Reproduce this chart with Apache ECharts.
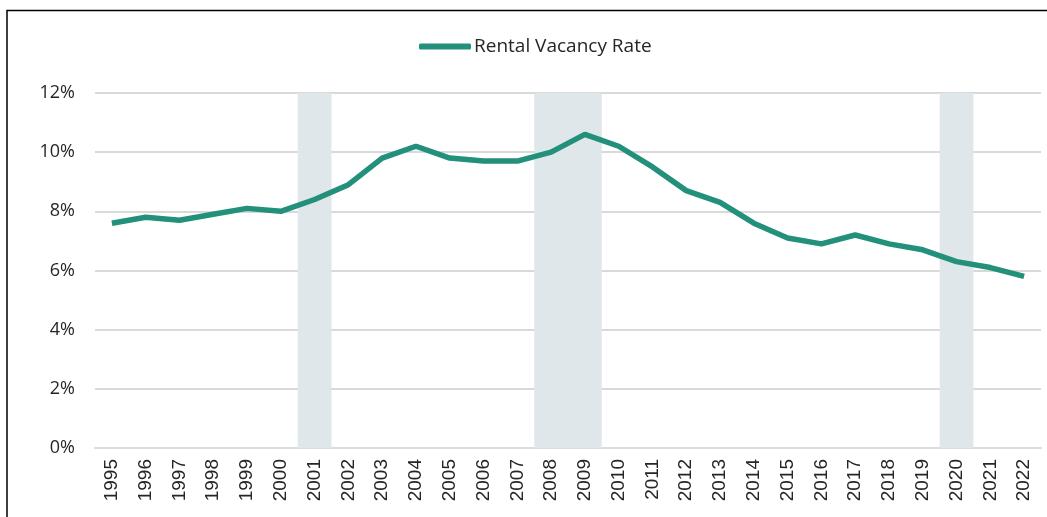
<!DOCTYPE html>
<html>
<head>
<meta charset="utf-8">
<script src="https://cdn.jsdelivr.net/npm/echarts@6/dist/echarts.min.js"></script>
<style>
  html, body { margin: 0; padding: 0; background: #fff; }
  #chart { width: 1047px; height: 517px; }
</style>
</head>
<body>
<div id="chart"></div>
<script>
const years = ['1995', '1996', '1997', '1998', '1999', '2000', '2001', '2002', '2003', '2004',
    '2005', '2006', '2007', '2008', '2009', '2010', '2011', '2012', '2013', '2014',
    '2015', '2016', '2017', '2018', '2019', '2020', '2021', '2022'];

// 空置率 (%)
const vacancyRate = [7.6, 7.8, 7.7, 7.9, 8.1, 8.0, 8.4, 8.9, 9.8, 10.2,
    9.8, 9.7, 9.7, 10.0, 10.6, 10.2, 9.5, 8.7, 8.3, 7.6,
    7.1, 6.9, 7.2, 6.9, 6.7, 6.3, 6.1, 5.8];

// 衰退期阴影
const recessionYears = ['2001', '2008', '2009', '2020'];
const yTicks = [0, 2, 4, 6, 8, 10, 12];

const chart = echarts.init(document.getElementById('chart'), null, { renderer: 'canvas' });

const lineColor = '#22907a';
const bandData = years.map(y => recessionYears.includes(y) ? yTicks[yTicks.length - 1] : null);

const option = {
    animation: false,
    graphic: [{
        type: 'polyline',
        shape: { points: [[7, 520], [7, 10.5], [1050, 10.5]] },
        style: { stroke: '#000', lineWidth: 1.5, fill: null },
        silent: true
    }],
    legend: {
        data: ['Rental Vacancy Rate'],
        left: 414,
        top: 32,
        itemWidth: 52,
        itemHeight: 6,
        itemGap: 4,
        icon: 'roundRect',
        textStyle: { fontFamily: 'Open Sans', fontSize: 19, color: '#262626', padding: [0, 0, 0, -2] }
    },
    grid: { left: 95, right: 6, top: 93, bottom: 69 },
    xAxis: {
        type: 'category',
        data: years,
        boundaryGap: true,
        axisLine: { show: true, lineStyle: { color: '#d3dde2', width: 2 } },
        axisTick: { show: false },
        axisLabel: {
            rotate: 90,
            margin: 11,
            fontFamily: 'Liberation Sans',
            fontSize: 19,
            color: '#262626'
        }
    },
    yAxis: {
        type: 'value',
        min: 0,
        max: 12,
        interval: 2,
        axisLine: { show: false },
        axisTick: { show: false },
        splitLine: { lineStyle: { color: '#d9d9d9', width: 2 } },
        axisLabel: {
            formatter: v => v + '%',
            margin: 20,
            fontFamily: 'Open Sans',
            fontSize: 18,
            color: '#262626'
        }
    },
    series: [
        {
            name: 'Recession',
            type: 'bar',
            data: bandData,
            barWidth: '100%',
            barGap: '-100%',
            itemStyle: { color: '#dfe7ea' },
            silent: true,
            z: 1
        },
        {
            name: 'Rental Vacancy Rate',
            type: 'line',
            data: vacancyRate,
            symbol: 'none',
            lineStyle: { width: 5.5, color: lineColor },
            itemStyle: { color: lineColor },
            z: 3
        }
    ]
};
chart.setOption(option);
</script>
</body>
</html>
